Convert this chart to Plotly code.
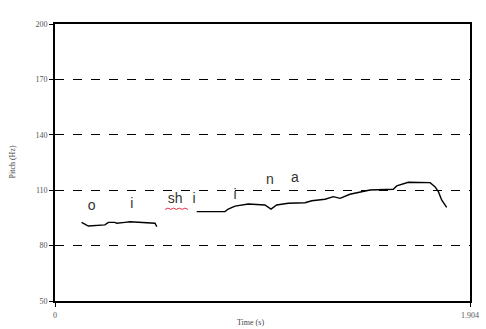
import plotly.graph_objects as go

# Segment 1 of the pitch contour
seg1_t = [0.122, 0.153, 0.229, 0.245, 0.275, 0.283, 0.321, 0.344, 0.459, 0.467]
seg1_f = [92.6, 90.6, 91.2, 92.6, 92.6, 92.1, 92.6, 92.9, 92.1, 90.2]

# Segment 2 of the pitch contour
seg2_t = [0.650, 0.780, 0.795, 0.826, 0.887, 0.963, 0.991, 1.017, 1.070, 1.147, 1.178,
          1.239, 1.277, 1.308, 1.353, 1.399, 1.445, 1.552, 1.568, 1.621, 1.721, 1.743,
          1.759, 1.774, 1.797]
seg2_f = [98.4, 98.4, 99.8, 101.4, 102.5, 102.0, 99.8, 102.0, 102.9, 103.2, 104.3,
          105.1, 106.5, 105.6, 107.8, 108.9, 110.1, 110.5, 112.3, 114.3, 114.1, 111.9,
          109.2, 104.7, 100.7]

# Red wavy underline under "sh"
wavy_t = [0.505, 0.518, 0.531, 0.544, 0.557, 0.570, 0.583, 0.596, 0.610]
wavy_f = [99.6, 100.3, 99.6, 100.3, 99.6, 100.3, 99.6, 100.3, 99.6]

# Segment labels
label_text = ["o", "i", "sh", "i", "i", "n", "a"]
label_t = [0.168, 0.352, 0.551, 0.638, 0.826, 0.986, 1.101]
label_f = [101.1, 102.0, 104.7, 104.7, 107.4, 115.5, 116.1]

y_ticks = [50, 80, 110, 140, 170, 200]
x_tickvals = [0, 1.904]
x_ticktext = ["0", "1.904"]
x_max = 1.904
x_title = "Time (s)"
y_title = "Pitch (Hz)"

fig = go.Figure()
fig.add_trace(go.Scatter(x=seg1_t, y=seg1_f, mode="lines",
                         line=dict(color="black", width=1.4), showlegend=False))
fig.add_trace(go.Scatter(x=seg2_t, y=seg2_f, mode="lines",
                         line=dict(color="black", width=1.4), showlegend=False))
fig.add_trace(go.Scatter(x=wavy_t, y=wavy_f, mode="lines",
                         line=dict(color="#e0304a", width=1), showlegend=False))
fig.add_trace(go.Scatter(x=label_t, y=label_f, mode="text", text=label_text,
                         textfont=dict(family="Liberation Sans, Arial", size=14, color="#333333"),
                         showlegend=False))

tick_font = dict(family="Liberation Serif, Times New Roman", size=8, color="#555555")
title_font = dict(family="Liberation Serif, Times New Roman", size=8, color="#444444")

fig.update_layout(
    width=486, height=329,
    margin=dict(l=55, r=16, t=24, b=28),
    paper_bgcolor="white", plot_bgcolor="white",
    xaxis=dict(range=[0, x_max], tickvals=x_tickvals, ticktext=x_ticktext,
               showgrid=False, zeroline=False, showline=True, linecolor="black",
               linewidth=1.6, mirror=True, ticks="outside", ticklen=4,
               tickcolor="black", tickfont=tick_font, ticklabelstandoff=2,
               automargin=False),
    yaxis=dict(range=[50, 200], tickvals=y_ticks, showgrid=True,
               gridcolor="black", griddash="dash", gridwidth=1.3,
               zeroline=False, showline=True, linecolor="black", linewidth=1.6,
               mirror=True, ticks="outside", ticklen=4, tickcolor="black",
               tickfont=tick_font, automargin=False),
    annotations=[
        dict(text=x_title, xref="paper", yref="paper", x=0.47, y=0,
             xanchor="center", yanchor="top", yshift=-15, showarrow=False,
             font=title_font),
        dict(text=y_title, xref="paper", yref="paper", x=0, y=0.5,
             xanchor="center", yanchor="middle", xshift=-43, textangle=-90,
             showarrow=False, font=title_font),
    ],
)

fig.write_html("out.html")
